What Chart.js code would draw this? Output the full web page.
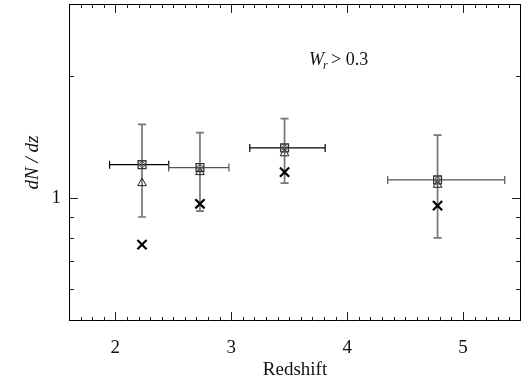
<!DOCTYPE html>
<html>
<head>
<meta charset="utf-8">
<script src="https://cdn.jsdelivr.net/npm/chart.js@4/dist/chart.umd.min.js"></script>
<style>
html,body{margin:0;padding:0;background:#fff;}
#wrap{width:530px;height:381px;}
</style>
</head>
<body>
<div id="wrap"><canvas id="c" width="530" height="381"></canvas></div>
<script>
// Data
const redshift     = [2.23, 2.73, 3.46, 4.78];
const zLow         = [1.95, 2.46, 3.16, 4.35];
const zHigh        = [2.46, 2.98, 3.81, 5.36];
const dndzSquare   = [1.21, 1.19, 1.33, 1.11];
const errLow       = [0.90, 0.93, 1.09, 0.80];
const errHigh      = [1.52, 1.45, 1.57, 1.43];
const dndzTriangle = [1.09, 1.16, 1.29, 1.08];
const dndzCross    = [0.77, 0.97, 1.16, 0.96];
const xTickLabels  = [2, 3, 4, 5];
const yTickLabels  = [1];
const xMinorStep   = 0.1;
const yMinorTicks  = [0.6, 0.7, 0.8, 0.9, 2];

const SERIF = '"Liberation Serif", "DejaVu Serif", serif';
const hBarColors = ['#000', '#555', '#000', '#555'];

const pts = (ys) => redshift.map((x, i) => ({x: x, y: ys[i]}));

const errorBars = {
  id: 'errorBars',
  beforeDatasetsDraw(chart) {
    const {ctx, scales: {x, y}} = chart;
    ctx.save();
    const cap = 4;
    redshift.forEach((z, i) => {
      const px = x.getPixelForValue(z);
      const py = y.getPixelForValue(dndzSquare[i]);
      const yt = y.getPixelForValue(errHigh[i]);
      const yb = y.getPixelForValue(errLow[i]);
      ctx.strokeStyle = '#767676';
      ctx.lineWidth = 1.7;
      ctx.beginPath();
      ctx.moveTo(px, yt); ctx.lineTo(px, yb);
      ctx.moveTo(px - cap, yt); ctx.lineTo(px + cap, yt);
      ctx.moveTo(px - cap, yb); ctx.lineTo(px + cap, yb);
      ctx.stroke();
      const xl = x.getPixelForValue(zLow[i]);
      const xr = x.getPixelForValue(zHigh[i]);
      ctx.strokeStyle = hBarColors[i];
      ctx.lineWidth = 1.2;
      ctx.beginPath();
      ctx.moveTo(xl, py); ctx.lineTo(xr, py);
      ctx.moveTo(xl, py - cap); ctx.lineTo(xl, py + cap);
      ctx.moveTo(xr, py - cap); ctx.lineTo(xr, py + cap);
      ctx.stroke();
    });
    ctx.restore();
  }
};

const frame = {
  id: 'frame',
  afterDraw(chart) {
    const {ctx, chartArea: a, scales: {x, y}} = chart;
    ctx.save();
    ctx.strokeStyle = '#000';
    ctx.lineWidth = 1;
    ctx.strokeRect(Math.round(a.left) + 0.5, Math.round(a.top) + 0.5,
                   Math.round(a.right - a.left) - 1, Math.round(a.bottom - a.top) - 1);
    ctx.strokeStyle = '#222';
    ctx.beginPath();
    const n = Math.round((x.max - x.min) / xMinorStep);
    for (let k = 0; k <= n; k++) {
      const v = Math.round((x.min + k * xMinorStep) * 10) / 10;
      if (v <= x.min || v >= x.max) continue;
      const major = xTickLabels.includes(v);
      const L = major ? 9 : 4;
      const px = Math.round(x.getPixelForValue(v)) + 0.5;
      ctx.moveTo(px, a.bottom); ctx.lineTo(px, a.bottom - L);
      ctx.moveTo(px, a.top); ctx.lineTo(px, a.top + L);
    }
    yTickLabels.concat(yMinorTicks).forEach(v => {
      const major = yTickLabels.includes(v);
      const L = major ? 9 : 5;
      const py = Math.round(y.getPixelForValue(v)) + 0.5;
      ctx.moveTo(a.left, py); ctx.lineTo(a.left + L, py);
      ctx.moveTo(a.right, py); ctx.lineTo(a.right - L, py);
    });
    ctx.stroke();
    // annotation W_r > 0.3
    ctx.fillStyle = '#111';
    ctx.textBaseline = 'alphabetic';
    ctx.font = 'italic 18px ' + SERIF;
    const tx = 309, ty = 65;
    ctx.fillText('W', tx, ty);
    const w1 = ctx.measureText('W').width;
    ctx.font = 'italic 12px ' + SERIF;
    ctx.fillText('r', tx + w1 - 1, ty + 4);
    ctx.font = '18px ' + SERIF;
    ctx.fillText('> 0.3', tx + w1 + 7, ty);
    ctx.restore();
  }
};

new Chart(document.getElementById('c'), {
  type: 'scatter',
  data: {
    datasets: [
      { data: pts(dndzSquare), pointStyle: 'rect', pointRadius: 5.5, borderColor: '#333', backgroundColor: 'rgba(255,255,255,0)', borderWidth: 1.3 },
      { data: pts(dndzSquare), pointStyle: 'circle', pointRadius: 2.6, borderColor: '#555', backgroundColor: 'rgba(255,255,255,0)', borderWidth: 1 },
      { data: pts(dndzSquare), pointStyle: 'circle', pointRadius: 0.8, borderColor: '#a33', backgroundColor: '#a33', borderWidth: 0 },
      { data: pts(dndzTriangle), pointStyle: 'triangle', pointRadius: 5, borderColor: '#222', backgroundColor: 'rgba(255,255,255,0)', borderWidth: 1 },
      { data: pts(dndzCross), pointStyle: 'crossRot', pointRadius: 6.5, borderColor: '#000', borderWidth: 2.2 }
    ]
  },
  options: {
    responsive: false,
    animation: false,
    events: [],
    layout: { autoPadding: false, padding: { left: 0, right: 9, top: 4, bottom: 0 } },
    plugins: { legend: { display: false }, tooltip: { enabled: false } },
    scales: {
      x: {
        type: 'linear', min: 1.6, max: 5.5,
        grid: { display: false, drawTicks: false },
        border: { display: false },
        afterBuildTicks: (s) => { s.ticks = xTickLabels.map(v => ({value: v})); },
        afterFit: (s) => { s.height = 60; s.paddingLeft = 0; s.paddingRight = 0; },
        ticks: { color: '#111', font: { family: SERIF, size: 19 }, padding: 16, maxRotation: 0, autoSkip: false,
                 callback: (v) => String(v) },
        title: { display: true, text: 'Redshift', color: '#111', font: { family: SERIF, size: 19 }, padding: { top: -3, bottom: 0 } }
      },
      y: {
        type: 'logarithmic', min: 0.5, max: 3,
        grid: { display: false, drawTicks: false },
        border: { display: false },
        afterBuildTicks: (s) => { s.ticks = yTickLabels.map(v => ({value: v})); },
        afterFit: (s) => { s.width = 69; s.paddingTop = 0; s.paddingBottom = 0; },
        ticks: { color: '#111', font: { family: SERIF, size: 19 }, padding: 8, autoSkip: false,
                 callback: (v) => String(v) },
        title: { display: true, text: 'dN / dz', color: '#111', font: { family: SERIF, size: 19, style: 'italic' }, padding: { top: 22, bottom: 0 } }
      }
    }
  },
  plugins: [errorBars, frame]
});
</script>
</body>
</html>
